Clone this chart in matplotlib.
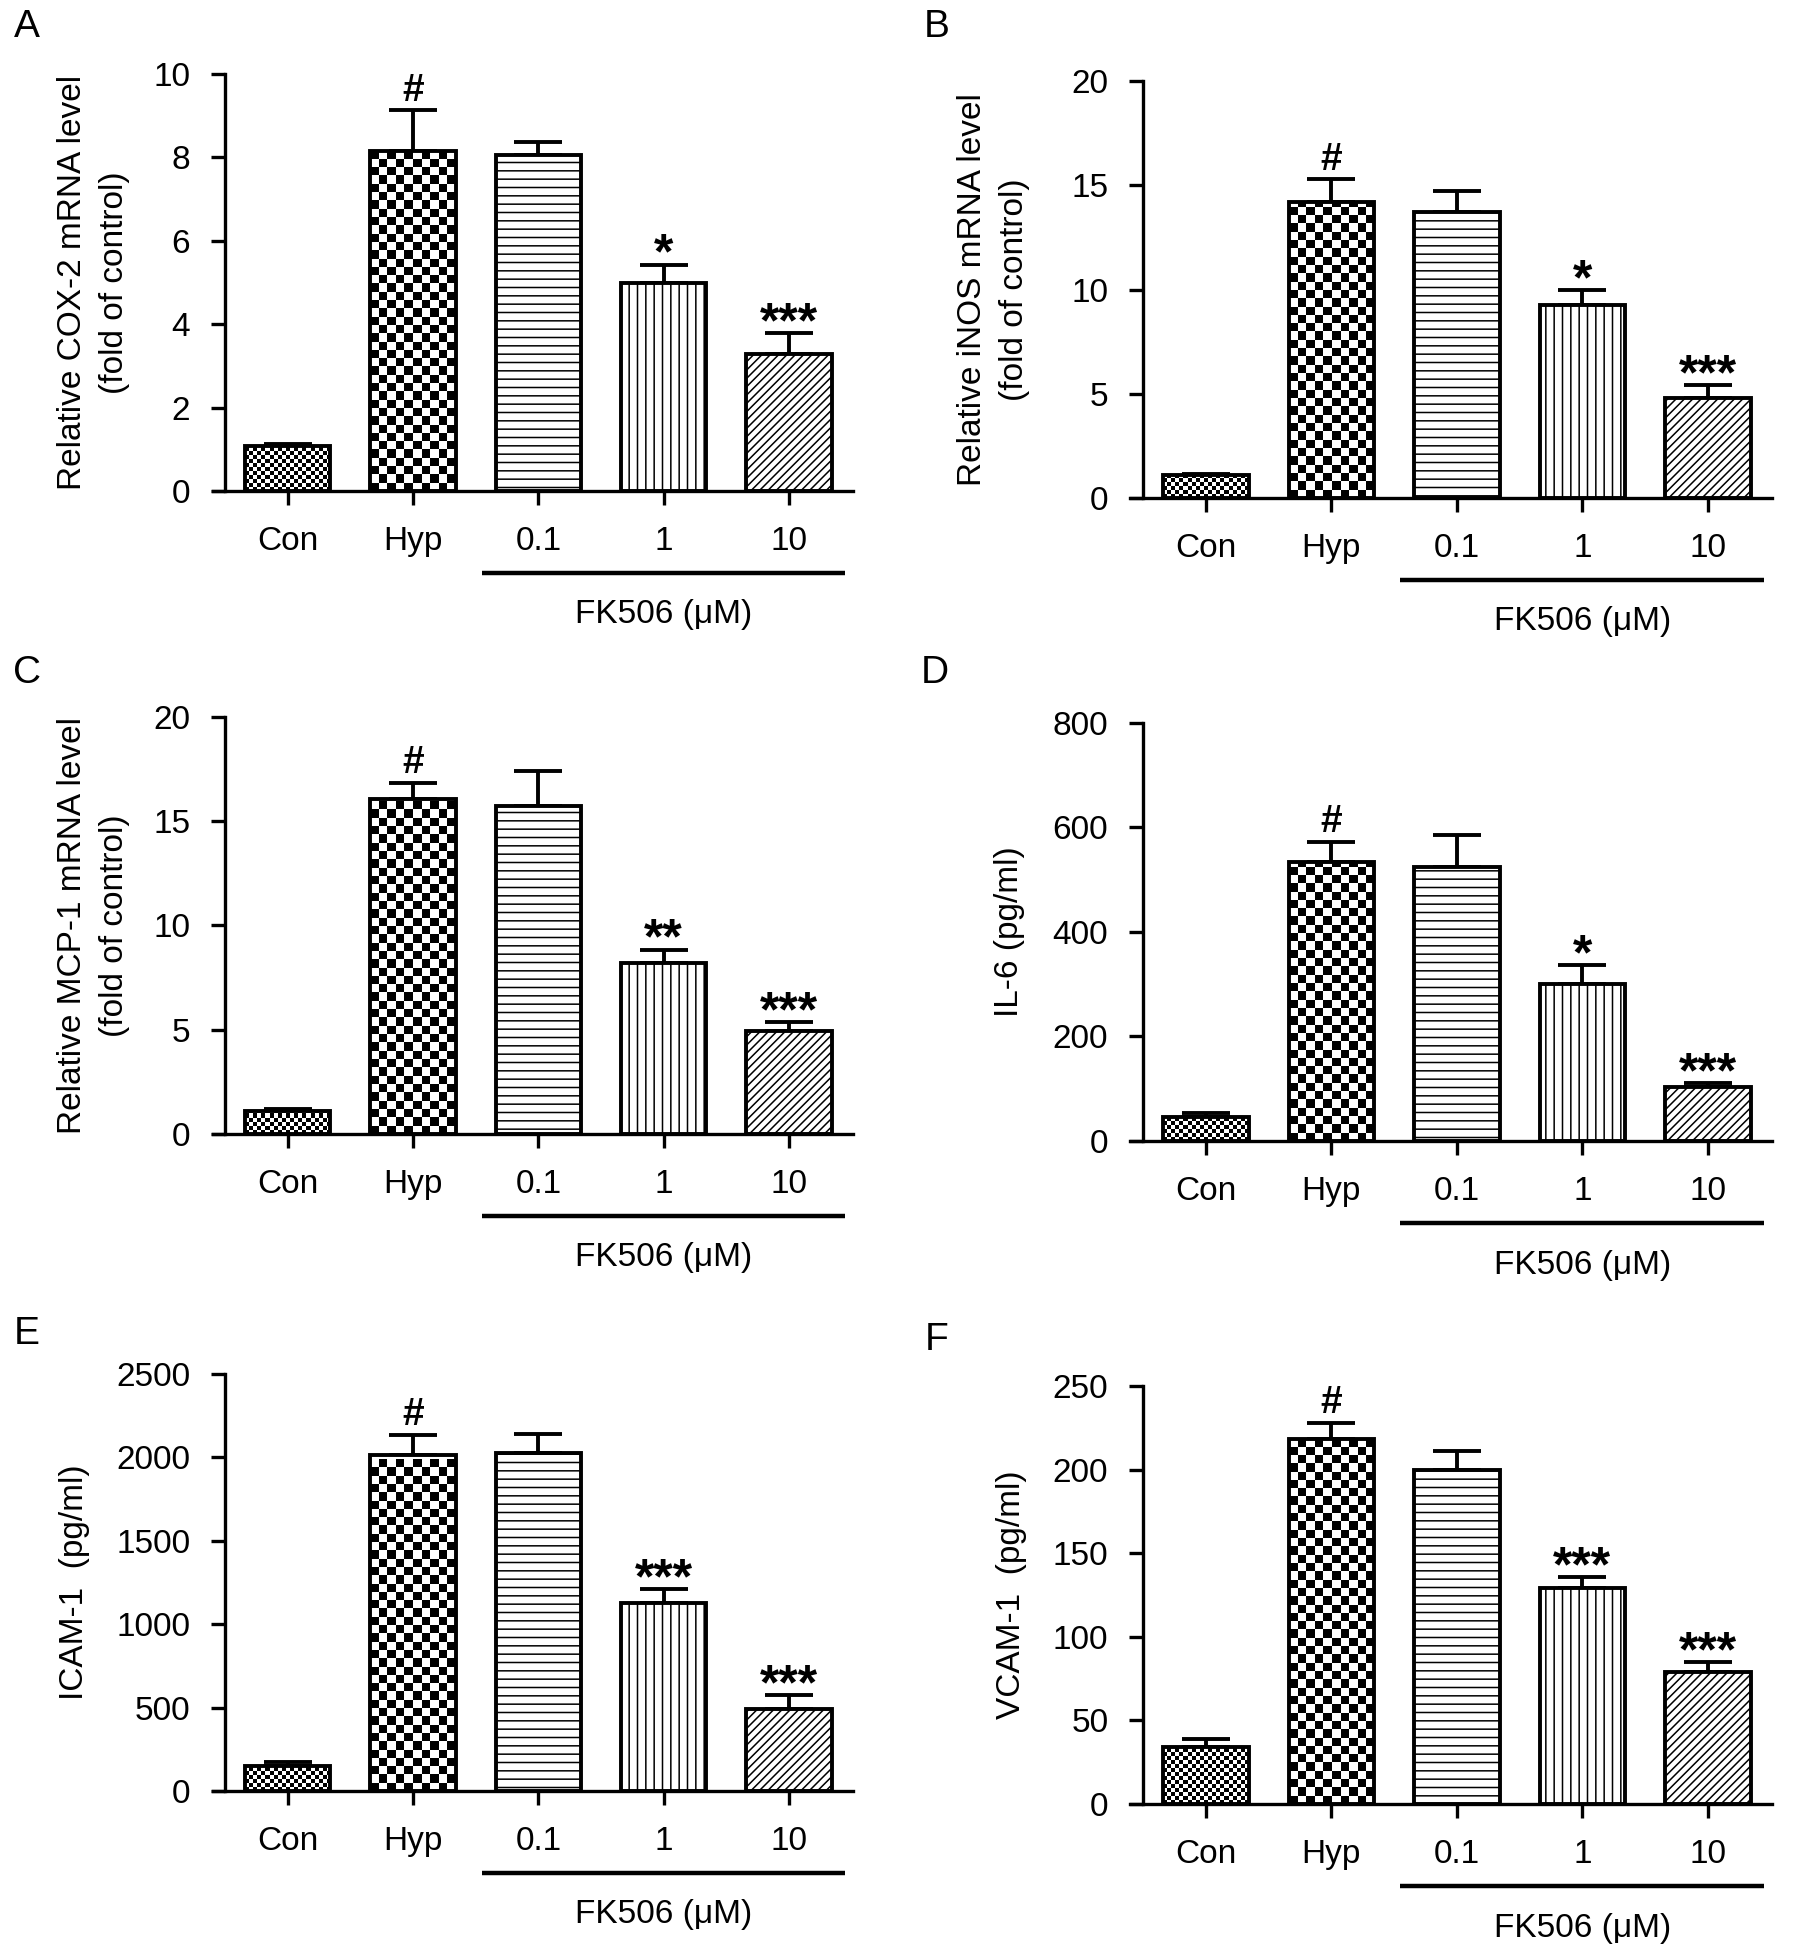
"""Six-panel bar chart: FK506 lowers hypoxia-induced inflammatory markers.

Panels A-C: relative mRNA level (fold of control); D-F: protein (pg/ml).
Writes out.png.
"""

import numpy as np
import matplotlib
matplotlib.use("Agg")
import matplotlib.pyplot as plt
from matplotlib.transforms import blended_transform_factory

plt.rcParams["font.family"] = ["Liberation Sans", "DejaVu Sans"]
plt.rcParams["hatch.linewidth"] = 1.1

# ---- data ----
categories = ["Con", "Hyp", "0.1", "1", "10"]

cox2 = [1.08, 8.15, 8.05, 4.98, 3.28]
cox2_err = [0.05, 0.98, 0.32, 0.45, 0.50]
cox2_sig = ["", "#", "", "*", "***"]

inos = [1.10, 14.2, 13.7, 9.28, 4.78]
inos_err = [0.06, 1.08, 1.04, 0.70, 0.63]
inos_sig = ["", "#", "", "*", "***"]

mcp1 = [1.12, 16.05, 15.75, 8.20, 4.93]
mcp1_err = [0.06, 0.78, 1.67, 0.64, 0.43]
mcp1_sig = ["", "#", "", "**", "***"]

il6 = [45, 533, 525, 300, 103]
il6_err = [8, 40, 60, 36, 7]
il6_sig = ["", "#", "", "*", "***"]

icam = [148, 2012, 2024, 1125, 492]
icam_err = [25, 125, 115, 85, 83]
icam_sig = ["", "#", "", "***", "***"]

vcam = [34, 218, 200, 129, 79]
vcam_err = [5, 10, 11, 6.5, 6]
vcam_sig = ["", "#", "", "***", "***"]

# fill style of each group: checker cell size in px, or a hatch string
fills = [("checker", 4), ("checker", 8.3), ("hatch", "--"), ("hatch", "||"), ("hatch", "////")]

panels = [
    # letter, values, errors, marks, ylabel, ymax, ystep, axes rect, ylabel x, letter pos (px)
    ("A", cox2, cox2_err, cox2_sig, "Relative COX-2 mRNA level\n(fold of control)", 10, 2,
     [0.1184, 0.7487, 0.3568, 0.2134], -0.186, (27, 27)),
    ("B", inos, inos_err, inos_sig, "Relative iNOS mRNA level\n(fold of control)", 20, 5,
     [0.6298, 0.7451, 0.3574, 0.2134], -0.213, (937, 27)),
    ("C", mcp1, mcp1_err, mcp1_sig, "Relative MCP-1 mRNA level\n(fold of control)", 20, 5,
     [0.1184, 0.4197, 0.3568, 0.2134], -0.186, (27, 673)),
    ("D", il6, il6_err, il6_sig, "IL-6 (pg/ml)", 800, 200,
     [0.6298, 0.4161, 0.3574, 0.2139], -0.188, (935, 673)),
    ("E", icam, icam_err, icam_sig, "ICAM-1  (pg/ml)", 2500, 500,
     [0.1184, 0.0834, 0.3568, 0.2134], -0.215, (27, 1334)),
    ("F", vcam, vcam_err, vcam_sig, "VCAM-1  (pg/ml)", 250, 50,
     [0.6298, 0.0768, 0.3574, 0.2139], -0.185, (937, 1340)),
]

W, H, DPI = 1795, 1954, 100
fig = plt.figure(figsize=(W / DPI, H / DPI), dpi=DPI)

FS = 24
BAR_W = 0.68
LW = 2.8


def checker_fill(ax, patch, cell_px):
    """Fill a bar with a black/white checkerboard, clipped to the bar."""
    x0, y0 = patch.get_x(), patch.get_y()
    w, h = patch.get_width(), patch.get_height()
    p0 = ax.transData.transform((x0, y0))
    p1 = ax.transData.transform((x0 + w, y0 + h))
    ncols = max(1, int(round((p1[0] - p0[0]) / cell_px)))
    nrows = max(1, int(round((p1[1] - p0[1]) / cell_px)))
    grid = np.indices((nrows, ncols)).sum(axis=0) % 2
    h_cells = nrows * cell_px / (p1[1] - p0[1]) * h
    im = ax.imshow(grid, cmap="gray", vmin=0, vmax=1, extent=(x0, x0 + w, y0, y0 + h_cells),
                   origin="lower", interpolation="nearest", aspect="auto", zorder=2.5)
    im.set_clip_path(patch)


for letter, vals, errs, sig, ylabel, ymax, ystep, rect, ylab_x, lpos in panels:
    ax = fig.add_axes(rect)
    x = np.arange(len(categories))
    ax.set_xlim(-0.6, 4.51)
    ax.set_ylim(0, ymax)
    ax.set_autoscale_on(False)

    ax.errorbar(x, vals, yerr=[np.zeros(len(vals)), errs], fmt="none", ecolor="black",
                elinewidth=LW, capsize=17, capthick=LW, zorder=1)

    bars = ax.bar(x, vals, BAR_W, color="white", edgecolor="black", linewidth=0, zorder=2)
    for patch, (kind, spec) in zip(bars, fills):
        if kind == "hatch":
            patch.set_hatch(spec)
        else:
            checker_fill(ax, patch, spec)
    ax.bar(x, vals, BAR_W, fill=False, edgecolor="black", linewidth=LW,
           joinstyle="miter", zorder=3)

    for xi, v, e, s in zip(x, vals, errs, sig):
        if not s:
            continue
        if s == "#":
            ax.annotate(s, (xi, v + e), xytext=(0, 7), textcoords="offset points",
                        ha="center", va="baseline", fontsize=28, fontweight="bold")
        else:
            ax.annotate(s, (xi, v + e), xytext=(0, -3), textcoords="offset points",
                        ha="center", va="baseline", fontsize=36, fontweight="bold")

    # axes styling (GraphPad look)
    ax.spines["top"].set_visible(False)
    ax.spines["right"].set_visible(False)
    ax.spines["left"].set_position(("data", -0.5))
    for side in ("left", "bottom"):
        ax.spines[side].set_linewidth(2.4)
    ax.set_yticks(np.arange(0, ymax + ystep / 2, ystep))
    ax.set_xticks(x)
    ax.set_xticklabels(categories)
    ax.tick_params(axis="both", direction="out", length=10, width=2.4, labelsize=FS)
    ax.tick_params(axis="x", pad=15)
    ax.tick_params(axis="y", pad=15)

    ax.text(ylab_x, 0.5, ylabel, transform=ax.transAxes, rotation=90, ha="center",
            va="center", fontsize=FS, linespacing=1.45, multialignment="center")

    # FK506 dose bracket under the treated groups
    trans = blended_transform_factory(ax.transData, ax.transAxes)
    ax.plot([x[2] - 0.45, x[4] + 0.45], [-0.197, -0.197], color="black", lw=3.2,
            transform=trans, clip_on=False, solid_capstyle="butt")
    ax.text(x[3], -0.26, "FK506 (μM)", transform=trans, ha="center", va="top", fontsize=FS)

    fig.text(lpos[0] / W, 1 - lpos[1] / H, letter, ha="center", va="center", fontsize=28)

fig.savefig("out.png", dpi=DPI)
